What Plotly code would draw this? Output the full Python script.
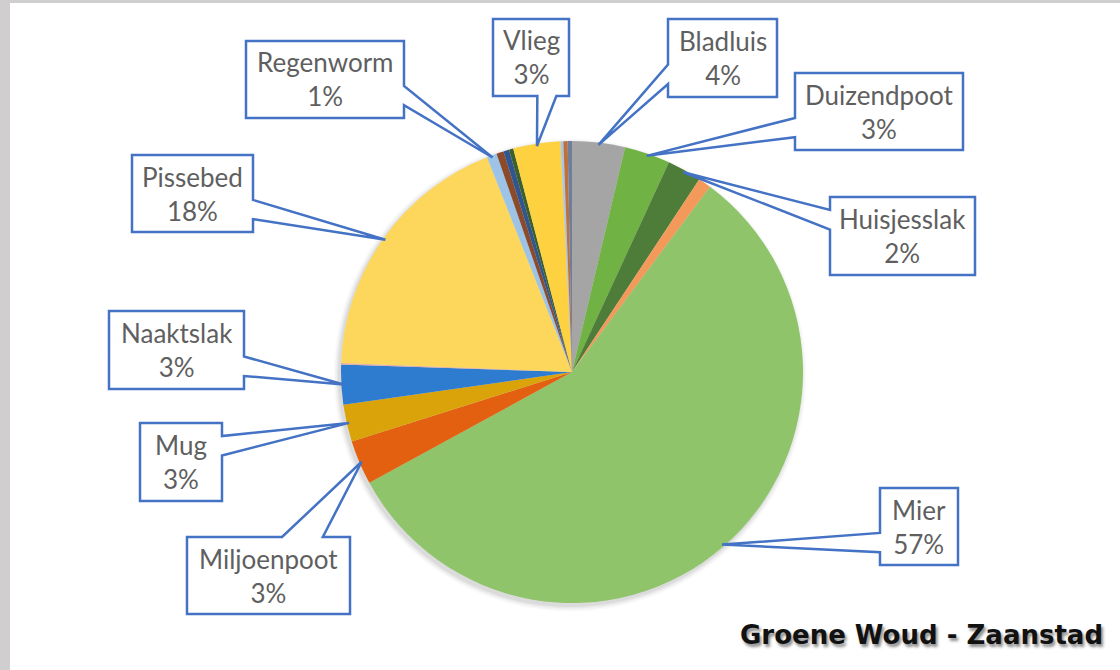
import math
import plotly.graph_objects as go

# ---- data (clockwise from 12 o'clock) ----
categories = ["Bladluis", "Duizendpoot", "Huisjesslak", "Overig 1", "Mier",
              "Miljoenpoot", "Mug", "Naaktslak", "Overig 2", "Pissebed",
              "Regenworm", "Overig 3", "Overig 4", "Overig 5", "Vlieg",
              "Overig 6", "Overig 7", "Overig 8"]
values = [3.7, 3.2, 2.4, 0.9, 56.9,
          3.1, 2.6, 2.8, 0.1, 18.4,
          0.7, 0.5, 0.4, 0.3, 3.3,
          0.2, 0.3, 0.3]
colors = ["#A5A5A5", "#70B244", "#4D7D38", "#F39A5B", "#8FC46B",
          "#E2600F", "#DBA30A", "#2E7CD0", "#E6B0A0", "#FCD75B",
          "#9DC3E6", "#8B4A2A", "#30558F", "#3D5F2E", "#FDD13F",
          "#A9C8E8", "#C0703A", "#6F7F9A"]
labelled = ["Bladluis", "Duizendpoot", "Huisjesslak", "Mier", "Miljoenpoot",
            "Mug", "Naaktslak", "Pissebed", "Regenworm", "Vlieg"]
title_text = "Groene Woud - Zaanstad"

# ---- layout geometry (pixels) ----
W, H = 1120, 670
CX, CY, R = 572, 372, 231
boxes = {
    "Bladluis": (668, 19, 777, 97),
    "Duizendpoot": (795, 73, 963, 150),
    "Huisjesslak": (830, 197, 975, 275),
    "Mier": (880, 488, 958, 565),
    "Miljoenpoot": (187, 537, 350, 614),
    "Mug": (140, 423, 222, 501),
    "Naaktslak": (109, 311, 244, 389),
    "Pissebed": (132, 155, 253, 232),
    "Regenworm": (246, 41, 404, 118),
    "Vlieg": (493, 19, 569, 96),
}


def px(x):
    return x / W


def py(y):
    return 1 - y / H


fig = go.Figure()
fig.add_trace(go.Pie(
    labels=categories, values=values, sort=False, direction="clockwise",
    rotation=0, textinfo="none", hoverinfo="label+percent",
    marker=dict(colors=colors, line=dict(width=0)),
    domain=dict(x=[px(CX - R), px(CX + R)], y=[py(CY + R), py(CY - R)]),
    showlegend=False,
))

shapes = []
# grey frame strips (left and top)
shapes.append(dict(type="rect", xref="paper", yref="paper", x0=0, x1=px(10),
                   y0=0, y1=1, fillcolor="#D0CECE", line=dict(width=0),
                   layer="below"))
shapes.append(dict(type="rect", xref="paper", yref="paper", x0=0, x1=1,
                   y0=py(3), y1=1, fillcolor="#D0CECE", line=dict(width=0),
                   layer="below"))
# soft pie shadow
for i, op in enumerate([0.05, 0.04, 0.03, 0.02]):
    rr = R + 1 + i * 1.5
    sx, sy = CX - 2, CY + 3
    shapes.append(dict(type="circle", xref="paper", yref="paper",
                       x0=px(sx - rr), x1=px(sx + rr), y0=py(sy + rr), y1=py(sy - rr),
                       fillcolor=f"rgba(0,0,0,{op})", line=dict(width=0), layer="below"))

annotations = []
total = sum(values)
cum = 0.0
for name, v in zip(categories, values):
    mid = (cum + v / 2) / total * 2 * math.pi
    cum += v
    if name not in labelled:
        continue
    tx = CX + R * 0.99 * math.sin(mid)
    ty = CY - R * 0.99 * math.cos(mid)
    l, t, r, b = boxes[name]
    w, h = r - l, b - t
    hc, vc = (l + r) / 2, (t + b) / 2
    dxp, dyp = tx - hc, ty - vc
    dq = dxp * h / w
    x1 = l + w * (7 if dxp > 0 else 2) / 12
    x2 = l + w * (10 if dxp > 0 else 5) / 12
    y1 = t + h * (7 if dyp > 0 else 2) / 12
    y2 = t + h * (10 if dyp > 0 else 5) / 12
    if abs(dq) > abs(dyp):
        side = "right" if dxp > 0 else "left"
    else:
        side = "bottom" if dyp > 0 else "top"
    pts = [(l, t)]
    if side == "top":
        pts += [(x1, t), (tx, ty), (x2, t)]
    pts.append((r, t))
    if side == "right":
        pts += [(r, y1), (tx, ty), (r, y2)]
    pts.append((r, b))
    if side == "bottom":
        pts += [(x2, b), (tx, ty), (x1, b)]
    pts.append((l, b))
    if side == "left":
        pts += [(l, y2), (tx, ty), (l, y1)]
    path = "M " + " L ".join(f"{px(x):.5f},{py(y):.5f}" for x, y in pts) + " Z"
    shapes.append(dict(type="path", xref="paper", yref="paper", path=path,
                       fillcolor="white", line=dict(color="#4472C4", width=2.5),
                       layer="above"))
    pct = int(v / total * 100 + 0.5)
    annotations.append(dict(x=px(hc), y=py(vc), xref="paper", yref="paper",
                            text=f"{name}<br>{pct}%", showarrow=False,
                            xanchor="center", yanchor="middle",
                            font=dict(family="Lato", size=26, color="#5F5F5F")))

annotations.append(dict(x=px(1105), y=py(635), xref="paper", yref="paper",
                        text=title_text, showarrow=False,
                        xanchor="right", yanchor="middle",
                        font=dict(family="DejaVu Sans", size=26, color="#111111",
                                  weight="bold",
                                  shadow="2px 3px 3px rgba(0,0,0,0.45)")))

fig.update_layout(
    width=W, height=H, margin=dict(l=0, r=0, t=0, b=0),
    paper_bgcolor="white", plot_bgcolor="white",
    shapes=shapes, annotations=annotations,
)
fig.write_html("out.html", config={"displayModeBar": False},
               post_script="document.body.style.margin='0';document.body.style.overflow='hidden';")
